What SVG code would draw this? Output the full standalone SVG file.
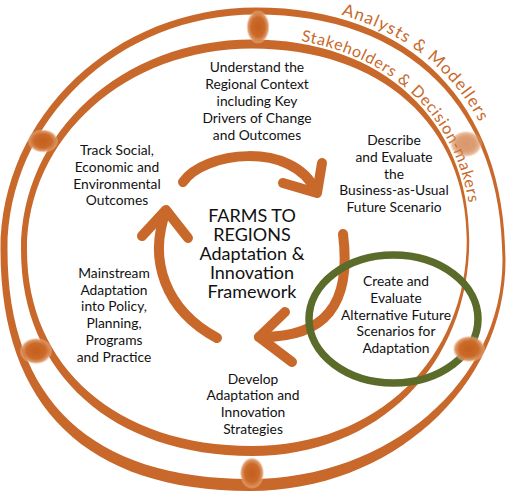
<svg xmlns="http://www.w3.org/2000/svg" width="506" height="494" viewBox="0 0 506 494">
<defs>
  <radialGradient id="bump" cx="50%" cy="50%" r="50%">
    <stop offset="0" stop-color="#C45F1C"/>
    <stop offset="0.6" stop-color="#CB6A2A"/>
    <stop offset="0.85" stop-color="#D98C56" stop-opacity="0.9"/>
    <stop offset="1" stop-color="#EDC3A3" stop-opacity="0.3"/>
  </radialGradient>
  <path id="p-analysts" d="M256,4 C414.1,4 511,101.3 511,260"/>
  <path id="p-stake" d="M252,37 C383.4,37 471.5,118 471.5,240 C471.5,300 460,340 440,370"/>
</defs>
<style>
  .ring{fill:#C8692B;fill-rule:evenodd}
  .cyc{fill:none;stroke:#C8692B;stroke-width:10;stroke-linecap:round;stroke-linejoin:round}
  .bump{fill:url(#bump)}
  .lbl{font-family:Lato,"Noto Sans",sans-serif;font-size:13.8px;fill:#111;text-anchor:middle}
  .ctr{font-size:18px}
  .arc{font-family:Lato,"Noto Sans",sans-serif;fill:#C8692B}
</style>

<g id="rings">
  <path class="ring" d="M256,7.5 C410.7,7.5 505.5,103.4 505.5,260 C505.5,387.9 390.5,491 250,491 C87.8,491 0.5,407.6 0.5,250 C0.5,116.1 114.9,7.5 256,7.5 Z M256,14.5 C408.8,14.5 502.5,107.8 502.5,260 C502.5,381.8 388.9,479 250,479 C92.4,479 7.5,400.5 7.5,250 C7.5,119.9 118.8,14.5 256,14.5 Z"/>
  <path class="ring" d="M252,39.5 C382.4,39.5 469.25,119.7 469.25,240 C469.25,365.3 378,456 252,456 C113.4,456 21,373.6 21,250 C21,132.1 122.6,39.5 252,39.5 Z M252,48.5 C380.9,48.5 466.75,125.1 466.75,240 C466.75,359.5 376.6,446 252,446 C117,446 27,367.6 27,250 C27,137.2 126,48.5 252,48.5 Z"/>
  <text class="arc" font-size="17"><textPath href="#p-analysts" startOffset="86" textLength="180" lengthAdjust="spacing">Analysts &amp; Modellers</textPath></text>
  <text class="arc" font-size="16"><textPath href="#p-stake" startOffset="49" textLength="250" lengthAdjust="spacing">Stakeholders &amp; Decision-makers</textPath></text>
</g>

<g id="connectors">
  <path class="cyc" d="M183,182 C203,152 292,140 316,191"/>
  <path class="cyc" d="M283,183 L317,193 L322,163"/>
  <path class="cyc" d="M343,234 C352,305 325,338 259,337"/>
  <path class="cyc" d="M285,312 L259,337 L292,362"/>
  <path class="cyc" d="M217,338 C165,310 148,260 166,211"/>
  <path class="cyc" d="M142,236 L166,210 L188,238"/>
</g>

<g id="highlight">
  <ellipse cx="393.5" cy="319" rx="84.5" ry="64" fill="none" stroke="#5A6B2A" stroke-width="7.5"/>
</g>

<g id="bumps">
  <ellipse class="bump" cx="258" cy="27" rx="11.5" ry="16.5"/>
  <ellipse class="bump" cx="252" cy="473" rx="12" ry="15.5"/>
  <ellipse class="bump" cx="43" cy="141" rx="15" ry="11.5"/>
  <ellipse class="bump" cx="36" cy="351" rx="16" ry="13"/>
  <ellipse class="bump" cx="466" cy="144" rx="16" ry="13" opacity="0.65"/>
  <ellipse class="bump" cx="469" cy="349" rx="16" ry="13"/>
</g>

<g id="node-understand">
  <text class="lbl"><tspan x="257" y="72">Understand the</tspan><tspan x="257" y="89">Regional Context</tspan><tspan x="257" y="106">including Key</tspan><tspan x="257" y="123">Drivers of Change</tspan><tspan x="257" y="140">and Outcomes</tspan></text>
</g>
<g id="node-describe">
  <text class="lbl"><tspan x="394" y="145">Describe</tspan><tspan x="394" y="161.8">and Evaluate</tspan><tspan x="394" y="178.6">the</tspan><tspan x="394" y="195.4">Business-as-Usual</tspan><tspan x="394" y="212.2">Future Scenario</tspan></text>
</g>
<g id="node-create">
  <text class="lbl"><tspan x="396" y="286">Create and</tspan><tspan x="396" y="302.8">Evaluate</tspan><tspan x="396" y="319.6">Alternative Future</tspan><tspan x="396" y="336.4">Scenarios for</tspan><tspan x="396" y="353.2">Adaptation</tspan></text>
</g>
<g id="node-develop">
  <text class="lbl"><tspan x="253" y="383.5">Develop</tspan><tspan x="253" y="400.3">Adaptation and</tspan><tspan x="253" y="417.1">Innovation</tspan><tspan x="253" y="433.9">Strategies</tspan></text>
</g>
<g id="node-mainstream">
  <text class="lbl"><tspan x="114" y="277.7">Mainstream</tspan><tspan x="114" y="294.5">Adaptation</tspan><tspan x="114" y="311.3">into Policy,</tspan><tspan x="114" y="328.1">Planning,</tspan><tspan x="114" y="344.9">Programs</tspan><tspan x="114" y="361.7">and Practice</tspan></text>
</g>
<g id="node-track">
  <text class="lbl"><tspan x="117" y="155">Track Social,</tspan><tspan x="117" y="171.8">Economic and</tspan><tspan x="117" y="188.6">Environmental</tspan><tspan x="117" y="205.4">Outcomes</tspan></text>
</g>
<g id="node-center">
  <text class="lbl ctr"><tspan x="252" y="222">FARMS TO</tspan><tspan x="252" y="241">REGIONS</tspan><tspan x="252" y="260">Adaptation &amp;</tspan><tspan x="252" y="279">Innovation</tspan><tspan x="252" y="298">Framework</tspan></text>
</g>
</svg>
